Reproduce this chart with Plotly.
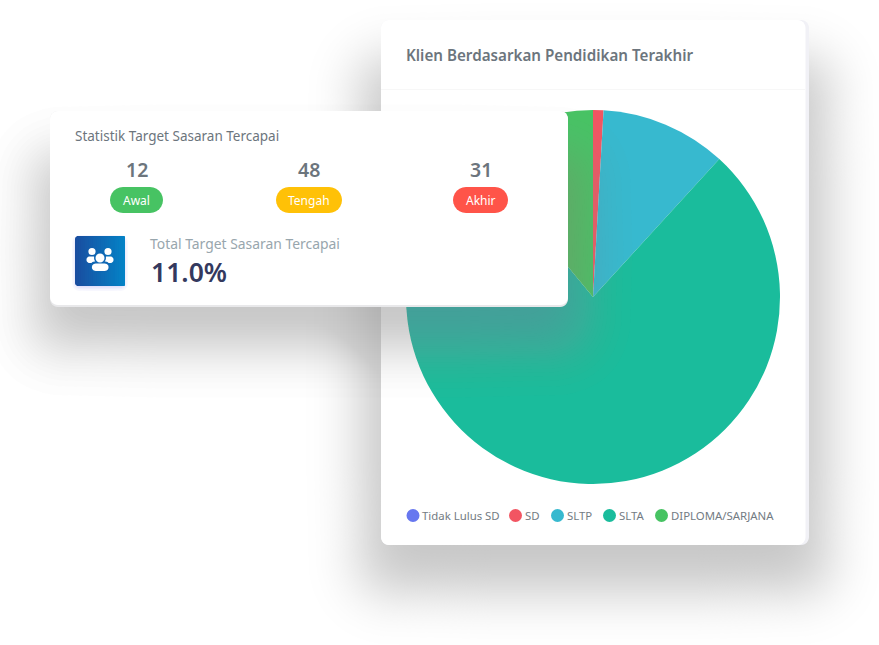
import math
import plotly.graph_objects as go

W, H = 879, 645
FONT = "Noto Sans"

categories = ["Tidak Lulus SD", "SD", "SLTP", "SLTA", "DIPLOMA/SARJANA"]
values = [0, 0.9, 10.9, 77.2, 11.0]
colors = ["#6777ef", "#f25562", "#37b9cf", "#1abc9c", "#47c363"]
legend_dot_x = [413, 515.5, 557.5, 609.5, 661.5]
legend_text_x = [422, 524.5, 566.5, 619, 671]

stat_values = ["12", "48", "31"]
stat_labels = ["Awal", "Tengah", "Akhir"]
stat_colors = ["#47c363", "#ffc107", "#ff5449"]
badge_spans = [(110, 163), (276, 342), (453, 508)]
stat_x = [136.5, 308.5, 480.5]


def px(x):
    return x / W


def py(y):
    return 1 - y / H


def rr_path(x0, y0, x1, y1, r):
    r = max(0, min(r, (x1 - x0) / 2, (y1 - y0) / 2))
    n = 6
    pts = []
    corners = [(x1 - r, y0 + r, -90), (x1 - r, y1 - r, 0), (x0 + r, y1 - r, 90), (x0 + r, y0 + r, 180)]
    for cx, cy, a0 in corners:
        for i in range(n + 1):
            a = math.radians(a0 + 90 * i / n)
            pts.append((cx + r * math.cos(a), cy + r * math.sin(a)))
    return "M" + " L".join(f"{px(a):.5f},{py(b):.5f}" for a, b in pts) + " Z"


def rr(x0, y0, x1, y1, r, fill, layer="below", opacity=1):
    return dict(type="path", xref="paper", yref="paper", path=rr_path(x0, y0, x1, y1, r),
                fillcolor=fill, line_width=0, layer=layer, opacity=opacity)


def circle(cx, cy, r, fill, layer="above"):
    return dict(type="circle", xref="paper", yref="paper", x0=px(cx - r), x1=px(cx + r),
                y0=py(cy + r), y1=py(cy - r), fillcolor=fill, line_width=0, layer=layer)


def inv_q(p):
    """z such that the upper tail of the normal CDF equals p."""
    lo, hi = -5.0, 5.0
    for _ in range(50):
        mid = (lo + hi) / 2
        if 0.5 * math.erfc(mid / math.sqrt(2)) > p:
            lo = mid
        else:
            hi = mid
    return lo


def contour_path(x0, y0, x1, y1, sigma, t):
    """Iso-line at coverage t of a Gaussian-blurred rectangle."""
    cx, cy = (x0 + x1) / 2, (y0 + y1) / 2
    hw, hh = (x1 - x0) / 2, (y1 - y0) / 2
    quarter = []  # runs from the bottom middle to the right middle
    n = 16
    for i in range(n + 1):
        s = i / n
        ux = max(inv_q(t ** s) * sigma, -hw + 1)
        uy = max(inv_q(t ** (1 - s)) * sigma, -hh + 1)
        quarter.append((hw + ux, hh + uy))
    pts = [(cx + a, cy + b) for a, b in reversed(quarter)]    # right middle to bottom middle
    pts += [(cx - a, cy + b) for a, b in quarter]             # bottom middle to left middle
    pts += [(cx - a, cy - b) for a, b in reversed(quarter)]   # left middle to top middle
    pts += [(cx + a, cy - b) for a, b in quarter]             # top middle to right middle
    return "M" + " L".join(f"{px(a):.5f},{py(b):.5f}" for a, b in pts) + " Z"


def soft(path, fill, layer, opacity=1):
    return dict(type="path", xref="paper", yref="paper", path=path, fillcolor=fill, line_width=0,
                layer=layer, opacity=opacity)


def shadow_alpha(x0, y0, x1, y1, sigma, alpha, layer, color="rgb(128,128,128)", step=5 / 255):
    """Soft shadow over anything: equal-alpha nested layers."""
    out = []
    total = 0.0
    while True:
        total = 1 - (1 - total) * (1 - step)
        if total >= alpha:
            break
        out.append(soft(contour_path(x0, y0, x1, y1, sigma, total / alpha), color, layer, step))
    return out


def shadow_opaque(x0, y0, x1, y1, sigma, alpha, base=128):
    """Soft shadow over a white page: one opaque layer per grey level."""
    out = []
    level = 254
    floor = 255 - (255 - base) * alpha
    while level > floor + 0.5:
        t = (255 - level) / (255 - base) / alpha
        out.append(soft(contour_path(x0, y0, x1, y1, sigma, t), f"rgb({level},{level},{level})", "below"))
        level -= 1
    return out


S_X, S_TOP, S_BOTTOM, S_SIGMA, S_ALPHA = 20, 38, 47, 26, 0.45

shapes = []
# main card
shapes += shadow_opaque(381 - S_X, 20 + S_TOP, 808 + S_X, 545 + S_BOTTOM, S_SIGMA, S_ALPHA)
shapes.append(rr(381, 20, 809, 545, 8, "#f1f1f6", "below"))
shapes.append(rr(381, 20, 805.5, 545, 8, "#ffffff", "below"))
shapes.append(dict(type="line", xref="paper", yref="paper", x0=px(381), x1=px(805), y0=py(89.5), y1=py(89.5),
                   line=dict(color="#f7f7f7", width=1), layer="below"))
# floating card
shapes += shadow_alpha(50 - S_X, 111 + S_TOP, 568 + S_X, 306 + S_BOTTOM, S_SIGMA, S_ALPHA, "above")
shapes.append(rr(50, 111, 568, 307, 8, "#e8e8ea", "above"))
shapes.append(rr(50, 111, 568, 305, 8, "#ffffff", "above"))
# icon glow and gradient tile
shapes += shadow_alpha(75, 238, 125, 288, 3, 0.3, "above", color="rgb(90,100,240)", step=0.05)
c0, c1 = (25, 78, 160), (4, 130, 198)
for i in range(25):
    t = i / 24
    col = "rgb(%d,%d,%d)" % tuple(round(a + (b - a) * t) for a, b in zip(c0, c1))
    shapes.append(rr(75 + 2 * i, 236, 125, 286, 3, col, "above"))
# people glyph
TILE = "#1067b3"
for cx, cy, r in [(92, 251.5, 3.6), (108, 251.5, 3.6)]:
    shapes.append(circle(cx, cy, r, "#ffffff"))
shapes.append(rr(86.5, 256.5, 96, 263, 3, "#ffffff", "above"))
shapes.append(rr(104, 256.5, 113.5, 263, 3, "#ffffff", "above"))
shapes.append(circle(100, 258, 6, TILE))
shapes.append(rr(90.5, 261.5, 109.5, 272, 4, TILE, "above"))
shapes.append(circle(100, 258, 4.5, "#ffffff"))
shapes.append(rr(92, 263.5, 108.5, 271, 4.5, "#ffffff", "above"))
# badges
for (a, b), col in zip(badge_spans, stat_colors):
    shapes.append(rr(a, 187, b, 213, 13, col, "above"))
# legend dots
for x, col in zip(legend_dot_x, colors):
    shapes.append(circle(x, 515.5, 6.5, col, "below"))

annotations = []


def text(x, y, s, size, color, anchor="left", weight=400):
    annotations.append(dict(xref="paper", yref="paper", x=px(x), y=py(y), text=s, showarrow=False,
                            xanchor=anchor, yanchor="middle", borderpad=0, borderwidth=0,
                            font=dict(family=FONT, size=size, color=color, weight=weight)))


text(406, 55, "Klien Berdasarkan Pendidikan Terakhir", 15.2, "#6c757d", weight=600)
text(75, 136.5, "Statistik Target Sasaran Tercapai", 13.5, "#6c757d")
for x, v in zip(stat_x, stat_values):
    text(x, 169.5, v, 19.5, "#6c757d", "center", 600)
for (a, b), lab in zip(badge_spans, stat_labels):
    text((a + b) / 2, 200, lab, 12, "#ffffff", "center", 400)
text(150, 243.5, "Total Target Sasaran Tercapai", 13.9, "#98a6ad")
text(150.5, 272, "11.0%", 26.5, "#34395e", weight=600)
for x, c in zip(legend_text_x, categories):
    text(x, 515.5, c, 11.4, "#737b83")

fig = go.Figure(go.Pie(
    labels=categories, values=values, sort=False, direction="clockwise", rotation=0,
    marker=dict(colors=colors, line=dict(width=0)), textinfo="none", hoverinfo="label+percent",
    showlegend=False,
    domain=dict(x=[px(406), px(780)], y=[py(484), py(110)]),
))
fig.update_layout(width=W, height=H, margin=dict(l=0, r=0, t=0, b=0), paper_bgcolor="#ffffff",
                  plot_bgcolor="#ffffff", shapes=shapes, annotations=annotations, showlegend=False,
                  font=dict(family=FONT))
fig.write_html("out.html", config=dict(displayModeBar=False),
               post_script="document.body.style.margin='0';document.documentElement.style.overflow='hidden';")
